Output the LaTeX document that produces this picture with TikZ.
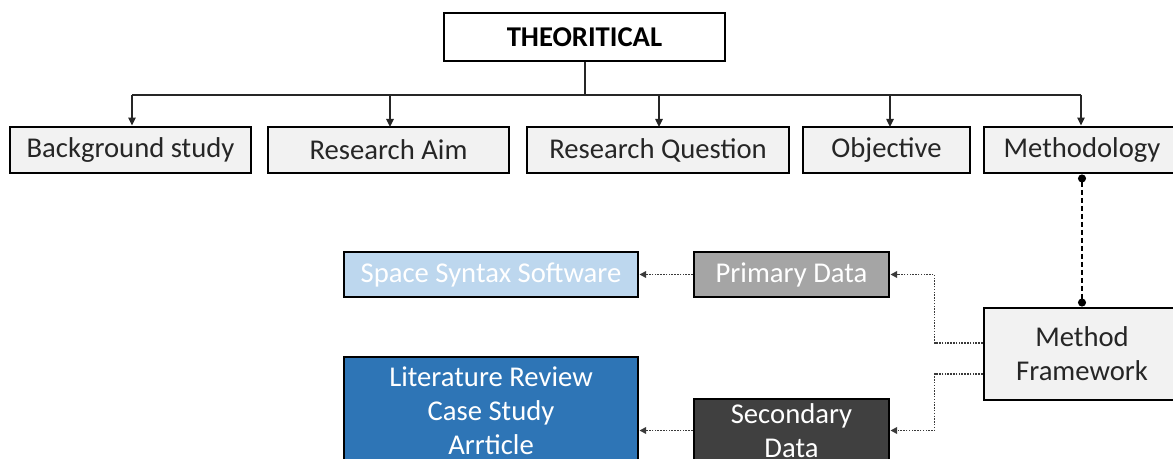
\documentclass[tikz,border=0pt]{standalone}
\usepackage{fontspec}
\setmainfont{Carlito}
\usetikzlibrary{arrows.meta}
\newdimen\pxu \pxu=0.75pt
\definecolor{boxgray}{HTML}{F2F2F2}
\definecolor{lblue}{HTML}{BDD7EE}
\definecolor{mgray}{HTML}{A5A5A5}
\definecolor{dblue}{HTML}{2E75B6}
\definecolor{dgray}{HTML}{404040}
\definecolor{linegray}{HTML}{3A3A3A}
\tikzset{
  box/.style={draw=black, line width=2.2pt, rectangle, inner sep=0pt, align=center,
    font=\fontsize{21.5}{25.5}\selectfont, text=black!85},
  topbox/.style={box, fill=boxgray},
  wbox/.style={box, text=white},
  conn/.style={draw=black!85, line width=1.1pt, -{Triangle[length=6pt,width=5.5pt]}},
  dotconn/.style={draw=linegray, line width=1.1pt, densely dotted, -{Triangle[length=5pt,width=5pt]}},
  dashconn/.style={draw=black, line width=1pt, dash pattern=on 4pt off 2pt, {Circle[length=6pt]}-{Circle[length=6pt]}},
}
\begin{document}
\begin{tikzpicture}[x=0.75pt,y=-0.75pt]
\useasboundingbox (0,0) rectangle (1173,459);
\clip (0,0) rectangle (1173,459);
% top
\node[box, fill=white, minimum width=281\pxu, minimum height=48\pxu, font=\fontsize{21.5}{25.5}\selectfont\bfseries, text=black] (th) at (584.5,37) {THEORITICAL};
\node[topbox, minimum width=241\pxu, minimum height=46\pxu] (bg) at (130.5,150) {Background study};
\node[topbox, minimum width=241\pxu, minimum height=46\pxu] (aim) at (388.5,150) {Research Aim};
\node[topbox, minimum width=262\pxu, minimum height=46\pxu] (rq) at (658,150) {Research Question};
\node[topbox, minimum width=167\pxu, minimum height=46\pxu] (obj) at (886.5,150) {Objective};
\node[topbox, minimum width=196\pxu, minimum height=46\pxu] (meth) at (1082,150) {Methodology};
% lower
\node[topbox, minimum width=196\pxu, minimum height=92\pxu] (mf) at (1082,354) {Method\\Framework};
\node[wbox, fill=lblue, minimum width=294\pxu, minimum height=45\pxu] (ss) at (491,274.5) {Space Syntax Software};
\node[wbox, fill=mgray, minimum width=195\pxu, minimum height=45\pxu] (pd) at (791.5,274.5) {Primary Data};
\node[wbox, fill=dblue, minimum width=294\pxu, minimum height=108\pxu] (lit) at (491,411) {Literature Review\\Case Study\\Arrticle};
\node[wbox, fill=dgray, minimum width=195\pxu, minimum height=63\pxu] (sd) at (791.5,430.5) {Secondary\\Data};
% tree connectors
\coordinate (hb) at (585,95);
\coordinate (hl) at (132,95);
\coordinate (hr) at (1081,95);
\draw[line width=1.1pt, draw=black!85] (th.south -| hb) -- (hb);
\draw[line width=1.1pt, draw=black!85] (hl) -- (hr);
\draw[conn] (hl) -- (hl |- bg.north);
\draw[conn] (390,95) -- (390,127) coordinate (aimtop);
\draw[conn] (659,95) -- (659,127) coordinate (rqtop);
\draw[conn] (890,95) -- (890,127) coordinate (objtop);
\draw[conn] (hr) -- (hr |- meth.north);
% methodology to framework
\draw[dashconn] (meth.south) -- (mf.north);
% framework to data
\draw[dotconn] ([yshift=11\pxu]mf.west) -- ++(-48,0) |- (pd.east);
\draw[dotconn] ([yshift=-20\pxu]mf.west) -- ++(-48,0) |- (sd.east);
% data to outputs
\draw[dotconn] (pd.west) -- (ss.east);
\draw[dotconn] (sd.west) -- (lit.east |- sd.west);
\end{tikzpicture}
\end{document}
